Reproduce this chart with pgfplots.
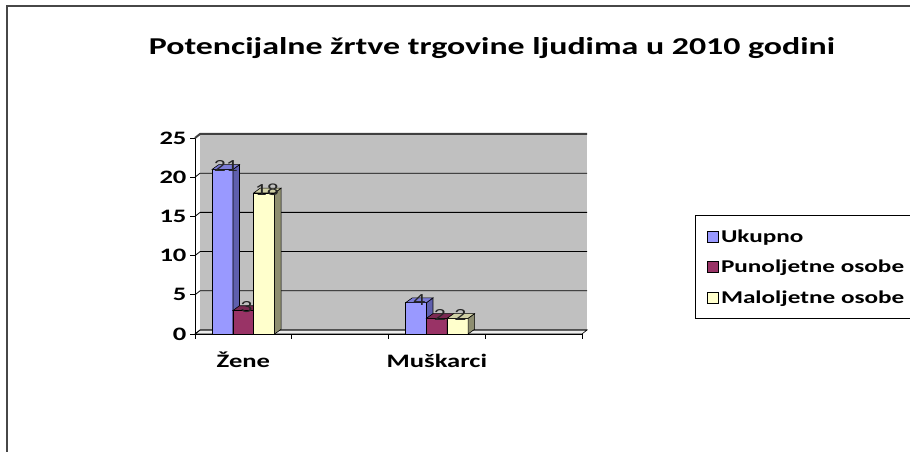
\documentclass[border=0pt]{standalone}
\usepackage{pgfplots}
\pgfplotsset{compat=1.18}
\usepackage{fontspec}
\setmainfont{Carlito}[FakeStretch=1.4]
\definecolor{cblue}{HTML}{9999FF}
\definecolor{cblueS}{HTML}{5F5FAE}
\definecolor{cblueT}{HTML}{7C7CD6}
\definecolor{cred}{HTML}{993366}
\definecolor{credS}{HTML}{5A1E3C}
\definecolor{credT}{HTML}{7A2952}
\definecolor{cyel}{HTML}{FFFFCC}
\definecolor{cyelS}{HTML}{8E8E70}
\definecolor{cyelT}{HTML}{D0D0A6}
\definecolor{wall}{HTML}{C0C0C0}
\definecolor{frame}{HTML}{474747}

% data: category position, value
\pgfplotstableread{
x y
0 21
2 4
}\ukupno
\pgfplotstableread{
x y
0 3
2 2
}\punolj
\pgfplotstableread{
x y
0 18
2 2
}\malolj

% 3D side and top faces of a bar centred at #1 with value #2
\newcommand{\barfaces}[4]{%
  \pgfmathsetmacro{\xl}{#1-0.1075}%
  \pgfmathsetmacro{\xr}{#1+0.1075}%
  \pgfmathsetmacro{\xrr}{#1+0.1075+0.067}%
  \pgfmathsetmacro{\xll}{#1-0.1075+0.067}%
  \pgfmathsetmacro{\vt}{#2+0.6}%
  \edef\tmp{\noexpand\addplot[forget plot, sharp plot, fill=#3, draw=black, line width=0.6pt] coordinates {(\xr,0) (\xrr,0.6) (\xrr,\vt) (\xr,#2)} -- cycle;}\tmp
  \edef\tmp{\noexpand\addplot[forget plot, sharp plot, fill=#4, draw=black, line width=0.6pt] coordinates {(\xl,#2) (\xll,\vt) (\xrr,\vt) (\xr,#2)} -- cycle;}\tmp
}

\begin{document}
\begin{tikzpicture}[x=1pt,y=1pt]
\path[use as bounding box] (0,0) rectangle (910,452);
\draw[frame, line width=2pt] (7,-5) -- (7,446) -- (915,446);
\node[font=\bfseries\fontsize{24.2}{29}\selectfont] at (492,404) {Potencijalne žrtve trgovine ljudima u 2010 godini};
\begin{axis}[
  at={(195pt,118pt)}, anchor=south west, scale only axis,
  width=387pt, height=196pt,
  xmin=-0.5, xmax=3.5, ymin=0, ymax=25, clip=false,
  axis x line*=bottom, axis y line*=left,
  axis line style={black, line width=0.8pt},
  tick align=outside, major tick length=5pt,
  tick style={black, line width=0.8pt},
  ytick={0,5,10,15,20,25},
  xtick={-0.5,0.5,1.5,2.5,3.5}, xticklabels={},
  extra x ticks={0,2}, extra x tick labels={Žene,Muškarci},
  extra x tick style={major tick length=0pt},
  ticklabel style={font=\bfseries\fontsize{19}{22}\selectfont, text=black},
  /pgf/number format/assume math mode=true,
  xticklabel style={text height=14pt, text depth=4pt, yshift=-16pt},
  bar width=0.215,
  every node near coord/.append style={font=\fontsize{17}{20}\selectfont, text=black!85, anchor=center, yshift=3pt},
  legend style={at={(1.292,0.607)}, anchor=north west, draw=black, line width=0.8pt,
    font=\bfseries\fontsize{18}{21}\selectfont, row sep=12.5pt, inner xsep=12pt, inner ysep=12pt},
  legend cell align=left,
  legend image code/.code={\draw[#1, draw=black, line width=0.6pt] (2pt,-5.5pt) rectangle (13pt,5.5pt);},
]
% back wall, floor and gridlines
\fill[wall] (axis cs:-0.448,0.51) rectangle (axis cs:3.552,25.51);
\filldraw[fill=gray!15, draw=black, line width=0.6pt] (axis cs:-0.5,0) -- (axis cs:-0.448,0.51) -- (axis cs:3.552,0.51) -- (axis cs:3.5,0) -- cycle;
\pgfplotsinvokeforeach{0,5,10,15,20}{
  \draw[black, line width=0.8pt] (axis cs:-0.5,#1) -- (axis cs:-0.448,#1+0.51) -- (axis cs:3.552,#1+0.51);
}
\draw[black!75, line width=2pt] (axis cs:-0.5,25) -- (axis cs:-0.448,25.51) -- (axis cs:3.552,25.51);

\addplot[ybar, nodes near coords, every node near coord/.append style={xshift=-17.5pt}, fill=cblue, draw=black, line width=0.6pt, bar shift=-0.215] table {\ukupno};
\addlegendentry{Ukupno}
\barfaces{-0.215}{21}{cblueS}{cblueT}
\barfaces{1.785}{4}{cblueS}{cblueT}
\addplot[ybar, nodes near coords, every node near coord/.append style={xshift=3pt}, fill=cred, draw=black, line width=0.6pt, bar shift=0] table {\punolj};
\addlegendentry{Punoljetne osobe}
\barfaces{0}{3}{credS}{credT}
\barfaces{2}{2}{credS}{credT}
\addplot[ybar, nodes near coords, every node near coord/.append style={xshift=23.5pt}, fill=cyel, draw=black, line width=0.6pt, bar shift=0.215] table {\malolj};
\addlegendentry{Maloljetne osobe}
\barfaces{0.215}{18}{cyelS}{cyelT}
\barfaces{2.215}{2}{cyelS}{cyelT}
\end{axis}
\end{tikzpicture}
\end{document}
